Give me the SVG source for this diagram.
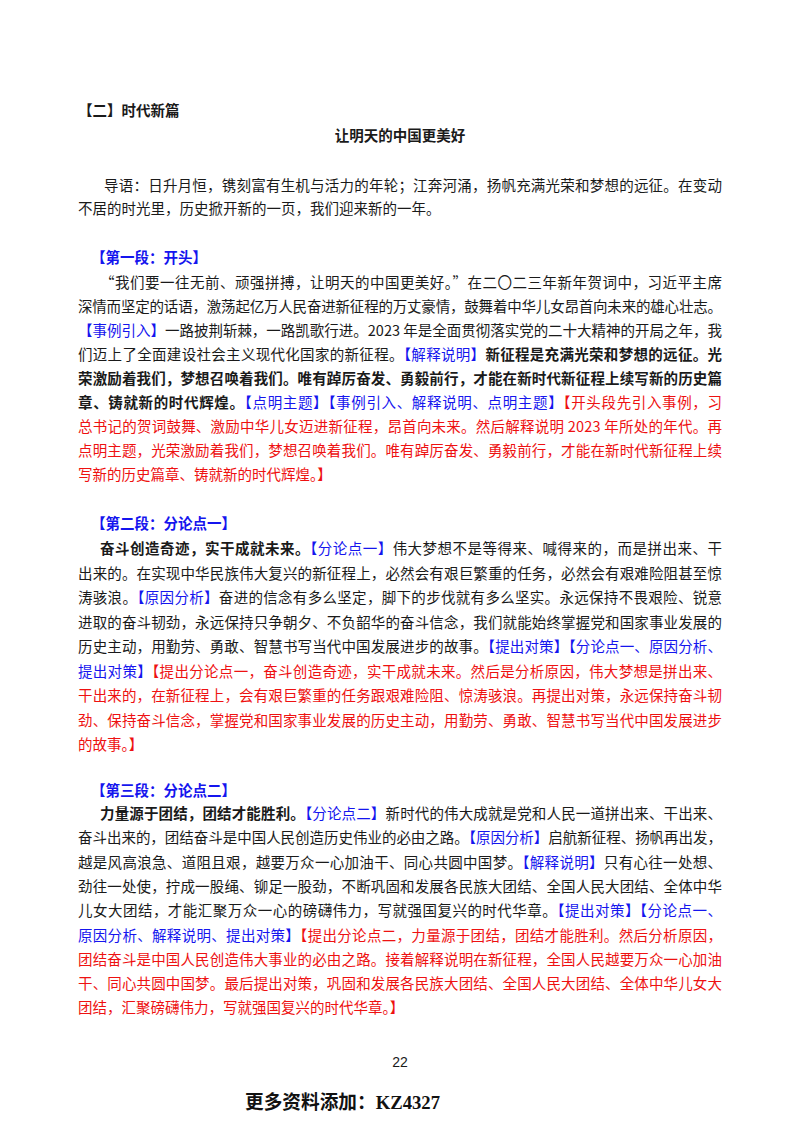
<svg xmlns="http://www.w3.org/2000/svg" width="800" height="1132" viewBox="0 0 800 1132">
<style>
text{font-family:"Noto Sans CJK SC","Noto Sans",sans-serif;font-size:14.5px;fill:#1a1a1a}
.b{font-weight:bold}
.bl{fill:#1515ee}
.r{fill:#ee1111}
.h{font-weight:bold;fill:#1515ee}
</style>
<rect width="800" height="1132" fill="#fff"/>
<g id="header">
<text x="78" y="116" class="b">【二】时代新篇</text>
<text x="400" y="141" class="b" text-anchor="middle">让明天的中国更美好</text>
</g>
<g id="intro">
<text x="104" y="191" textLength="618" lengthAdjust="spacing">导语：日升月恒，镌刻富有生机与活力的年轮；江奔河涌，扬帆充满光荣和梦想的远征。在变动</text>
<text x="78" y="214">不居的时光里，历史掀开新的一页，我们迎来新的一年。</text>
</g>
<g id="para1">
<text x="91" y="263" class="h">【第一段：开头】</text>
<text x="100" y="288" textLength="622" lengthAdjust="spacing">“我们要一往无前、顽强拼搏，让明天的中国更美好。”在二〇二三年新年贺词中，习近平主席</text>
<text x="78" y="312" textLength="644" lengthAdjust="spacing">深情而坚定的话语，激荡起亿万人民奋进新征程的万丈豪情，鼓舞着中华儿女昂首向未来的雄心壮志。</text>
<text x="78" y="336" textLength="644" lengthAdjust="spacing"><tspan class="bl">【事例引入】</tspan>一路披荆斩棘，一路凯歌行进。2023 年是全面贯彻落实党的二十大精神的开局之年，我</text>
<text x="78" y="360" textLength="644" lengthAdjust="spacing">们迈上了全面建设社会主义现代化国家的新征程。<tspan class="bl">【解释说明】</tspan><tspan class="b">新征程是充满光荣和梦想的远征。光</tspan></text>
<text x="78" y="384" class="b" textLength="644" lengthAdjust="spacing">荣激励着我们，梦想召唤着我们。唯有踔厉奋发、勇毅前行，才能在新时代新征程上续写新的历史篇</text>
<text x="78" y="408" textLength="644" lengthAdjust="spacing"><tspan class="b">章、铸就新的时代辉煌。</tspan><tspan class="bl">【点明主题】【事例引入、解释说明、点明主题】</tspan><tspan class="r">【开头段先引入事例，习</tspan></text>
<text x="78" y="432" class="r" textLength="644" lengthAdjust="spacing">总书记的贺词鼓舞、激励中华儿女迈进新征程，昂首向未来。然后解释说明 2023 年所处的年代。再</text>
<text x="78" y="456" class="r" textLength="644" lengthAdjust="spacing">点明主题，光荣激励着我们，梦想召唤着我们。唯有踔厉奋发、勇毅前行，才能在新时代新征程上续</text>
<text x="78" y="480" class="r">写新的历史篇章、铸就新的时代辉煌。】</text>
</g>
<g id="para2">
<text x="91" y="529" class="h">【第二段：分论点一】</text>
<text x="100" y="554" textLength="622" lengthAdjust="spacing"><tspan class="b">奋斗创造奇迹，实干成就未来。</tspan><tspan class="bl">【分论点一】</tspan>伟大梦想不是等得来、喊得来的，而是拼出来、干</text>
<text x="78" y="578.5" textLength="644" lengthAdjust="spacing">出来的。在实现中华民族伟大复兴的新征程上，必然会有艰巨繁重的任务，必然会有艰难险阻甚至惊</text>
<text x="78" y="603" textLength="644" lengthAdjust="spacing">涛骇浪。<tspan class="bl">【原因分析】</tspan>奋进的信念有多么坚定，脚下的步伐就有多么坚实。永远保持不畏艰险、锐意</text>
<text x="78" y="627.5" textLength="644" lengthAdjust="spacing">进取的奋斗韧劲，永远保持只争朝夕、不负韶华的奋斗信念，我们就能始终掌握党和国家事业发展的</text>
<text x="78" y="652" textLength="644" lengthAdjust="spacing">历史主动，用勤劳、勇敢、智慧书写当代中国发展进步的故事。<tspan class="bl">【提出对策】【分论点一、原因分析、</tspan></text>
<text x="78" y="676.5" textLength="644" lengthAdjust="spacing"><tspan class="bl">提出对策】</tspan><tspan class="r">【提出分论点一，奋斗创造奇迹，实干成就未来。然后是分析原因，伟大梦想是拼出来、</tspan></text>
<text x="78" y="701" class="r" textLength="644" lengthAdjust="spacing">干出来的，在新征程上，会有艰巨繁重的任务跟艰难险阻、惊涛骇浪。再提出对策，永远保持奋斗韧</text>
<text x="78" y="725.5" class="r" textLength="644" lengthAdjust="spacing">劲、保持奋斗信念，掌握党和国家事业发展的历史主动，用勤劳、勇敢、智慧书写当代中国发展进步</text>
<text x="78" y="750" class="r">的故事。】</text>
</g>
<g id="para3">
<text x="91" y="796" class="h">【第三段：分论点二】</text>
<text x="100" y="819" textLength="622" lengthAdjust="spacing"><tspan class="b">力量源于团结，团结才能胜利。</tspan><tspan class="bl">【分论点二】</tspan>新时代的伟大成就是党和人民一道拼出来、干出来、</text>
<text x="78" y="843.3" textLength="644" lengthAdjust="spacing">奋斗出来的，团结奋斗是中国人民创造历史伟业的必由之路。<tspan class="bl">【原因分析】</tspan>启航新征程、扬帆再出发，</text>
<text x="78" y="867.6" textLength="644" lengthAdjust="spacing">越是风高浪急、道阻且艰，越要万众一心加油干、同心共圆中国梦。<tspan class="bl">【解释说明】</tspan>只有心往一处想、</text>
<text x="78" y="891.9" textLength="644" lengthAdjust="spacing">劲往一处使，拧成一股绳、铆足一股劲，不断巩固和发展各民族大团结、全国人民大团结、全体中华</text>
<text x="78" y="916.2" textLength="644" lengthAdjust="spacing">儿女大团结，才能汇聚万众一心的磅礴伟力，写就强国复兴的时代华章。<tspan class="bl">【提出对策】【分论点一、</tspan></text>
<text x="78" y="940.5" textLength="644" lengthAdjust="spacing"><tspan class="bl">原因分析、解释说明、提出对策】</tspan><tspan class="r">【提出分论点二，力量源于团结，团结才能胜利。然后分析原因，</tspan></text>
<text x="78" y="964.8" class="r" textLength="644" lengthAdjust="spacing">团结奋斗是中国人民创造伟大事业的必由之路。接着解释说明在新征程，全国人民越要万众一心加油</text>
<text x="78" y="989.1" class="r" textLength="644" lengthAdjust="spacing">干、同心共圆中国梦。最后提出对策，巩固和发展各民族大团结、全国人民大团结、全体中华儿女大</text>
<text x="78" y="1013.4" class="r">团结，汇聚磅礴伟力，写就强国复兴的时代华章。】</text>
</g>
<g id="footer">
<text x="400" y="1067" text-anchor="middle" style="font-family:'Liberation Sans',sans-serif;font-size:14px">22</text>
<text x="245" y="1109" textLength="195" lengthAdjust="spacingAndGlyphs" style="font-family:'Liberation Serif','Noto Sans CJK SC',serif;font-size:19px;font-weight:bold;fill:#111">更多资料添加：KZ4327</text>
</g>
</svg>
